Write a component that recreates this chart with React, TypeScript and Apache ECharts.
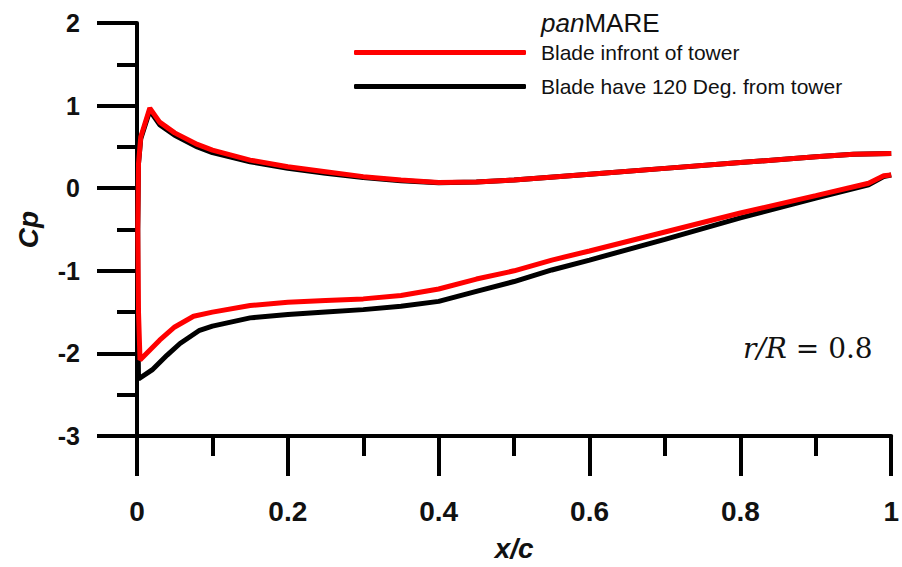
import React, { useEffect, useRef } from "react";
import * as echarts from "echarts";

const seriesNames = ["Blade infront of tower", "Blade have 120 Deg. from tower"];
const seriesColors = ["#ff0000", "#000000"];

const xTicks = [0, 0.2, 0.4, 0.6, 0.8, 1];
const yTicks = [-3, -2, -1, 0, 1, 2];

// Blade in front of tower (x/c, Cp) - traced from trailing edge over upper side, around LE, back along lower side
const frontData: [number, number][] = [
  [1.0, 0.42], [0.95, 0.41], [0.9, 0.38], [0.8, 0.31], [0.7, 0.24], [0.6, 0.17],
  [0.5, 0.1], [0.45, 0.075], [0.4, 0.07], [0.35, 0.1], [0.3, 0.14], [0.25, 0.2],
  [0.2, 0.26], [0.15, 0.34], [0.1, 0.46], [0.08, 0.53], [0.05, 0.67], [0.03, 0.8],
  [0.017, 0.97], [0.005, 0.62], [0.002, 0.3], [0.001, -0.5], [0.002, -1.5], [0.004, -2.08],
  [0.03, -1.84], [0.05, -1.68], [0.075, -1.55], [0.1, -1.5], [0.15, -1.42], [0.2, -1.38],
  [0.25, -1.36], [0.3, -1.34], [0.35, -1.3], [0.4, -1.22], [0.45, -1.1], [0.5, -1.0],
  [0.55, -0.87], [0.6, -0.76], [0.7, -0.53], [0.8, -0.3], [0.9, -0.09], [0.97, 0.06],
  [0.99, 0.15], [1.0, 0.16],
];

// Blade at 120 deg from tower
const deg120Data: [number, number][] = [
  [1.0, 0.42], [0.95, 0.41], [0.9, 0.38], [0.8, 0.31], [0.7, 0.24], [0.6, 0.17],
  [0.5, 0.1], [0.45, 0.075], [0.4, 0.065], [0.35, 0.09], [0.3, 0.13], [0.25, 0.18],
  [0.2, 0.24], [0.15, 0.32], [0.1, 0.43], [0.08, 0.5], [0.05, 0.64], [0.03, 0.77],
  [0.017, 0.94], [0.005, 0.6], [0.002, 0.3], [0.001, -0.5], [0.001, -1.5], [0.002, -2.31],
  [0.02, -2.2], [0.04, -2.02], [0.057, -1.88], [0.083, -1.72], [0.1, -1.67], [0.15, -1.57],
  [0.2, -1.53], [0.25, -1.5], [0.3, -1.47], [0.35, -1.43], [0.4, -1.37], [0.45, -1.25],
  [0.5, -1.13], [0.55, -0.99], [0.6, -0.87], [0.7, -0.62], [0.8, -0.36], [0.9, -0.12],
  [0.97, 0.04], [0.99, 0.14], [1.0, 0.16],
];

const FONT = "'Liberation Sans', Arial, Helvetica, sans-serif";
const SERIF = "'DejaVu Serif', 'Liberation Serif', serif";

export default function App() {
  const ref = useRef<HTMLDivElement>(null);
  useEffect(() => {
    if (!ref.current) return;
    const chart = echarts.init(ref.current, undefined, { renderer: "svg" });
    const axisCommon = {
      axisTick: { show: true, length: 40, lineStyle: { color: "#000", width: 4 } },
      minorTick: { show: true, splitNumber: 2, length: 20, lineStyle: { color: "#000", width: 4 } },
      splitLine: { show: false },
      minorSplitLine: { show: false },
    };
    chart.setOption({
      animation: false,
      backgroundColor: "#fff",
      title: {
        text: "{i|pan}MARE",
        left: 541,
        top: 10,
        padding: 0,
        textStyle: {
          fontFamily: FONT,
          fontSize: 26,
          fontWeight: "normal",
          color: "#111",
          rich: { i: { fontFamily: FONT, fontSize: 26, fontStyle: "italic", color: "#111" } },
        },
      },
      legend: {
        orient: "vertical",
        left: 354,
        top: 42,
        padding: 0,
        itemWidth: 172,
        itemHeight: 5,
        itemGap: 13,
        icon: "roundRect",
        data: seriesNames,
        textStyle: { fontFamily: FONT, fontSize: 21, color: "#111", padding: [0, 0, 0, 10] },
      },
      grid: { left: 137, right: 7, top: 23, bottom: 127, containLabel: false },
      xAxis: {
        type: "value",
        min: xTicks[0],
        max: xTicks[xTicks.length - 1],
        interval: 0.2,
        name: "x/c",
        nameLocation: "middle",
        nameGap: 98,
        nameTextStyle: { fontFamily: FONT, fontSize: 28, fontWeight: "bold", fontStyle: "italic", color: "#111" },
        axisLabel: { margin: 61, fontFamily: FONT, fontSize: 28, fontWeight: "bold", color: "#111" },
        axisLine: { show: true, onZero: false, lineStyle: { color: "#000", width: 4 } },
        ...axisCommon,
      },
      yAxis: {
        type: "value",
        min: yTicks[0],
        max: yTicks[yTicks.length - 1],
        interval: 1,
        name: "Cp",
        nameLocation: "middle",
        nameGap: 95,
        nameRotate: 90,
        nameTextStyle: { fontFamily: FONT, fontSize: 28, fontWeight: "bold", fontStyle: "italic", color: "#111" },
        axisLabel: { margin: 57, fontFamily: FONT, fontSize: 25, fontWeight: "bold", color: "#111" },
        axisLine: { show: true, onZero: false, lineStyle: { color: "#000", width: 4 } },
        ...axisCommon,
      },
      graphic: [
        {
          type: "text",
          left: 743,
          top: 334,
          style: {
            text: "{i|r/R} = 0.8",
            fontFamily: SERIF,
            fontSize: 28,
            fill: "#111",
            rich: { i: { fontFamily: SERIF, fontSize: 28, fontStyle: "italic", fill: "#111" } },
          },
        },
      ],
      series: [
        {
          name: seriesNames[0],
          type: "line",
          data: frontData,
          showSymbol: false,
          symbol: "none",
          z: 3,
          color: seriesColors[0],
          lineStyle: { color: seriesColors[0], width: 5 },
          itemStyle: { color: seriesColors[0] },
        },
        {
          name: seriesNames[1],
          type: "line",
          data: deg120Data,
          showSymbol: false,
          symbol: "none",
          z: 2,
          color: seriesColors[1],
          lineStyle: { color: seriesColors[1], width: 5 },
          itemStyle: { color: seriesColors[1] },
        },
      ],
    });
    return () => chart.dispose();
  }, []);
  return (
    <div
      ref={ref}
      style={{ position: "fixed", left: 0, top: 0, width: 902, height: 567, background: "#fff" }}
    />
  );
}
